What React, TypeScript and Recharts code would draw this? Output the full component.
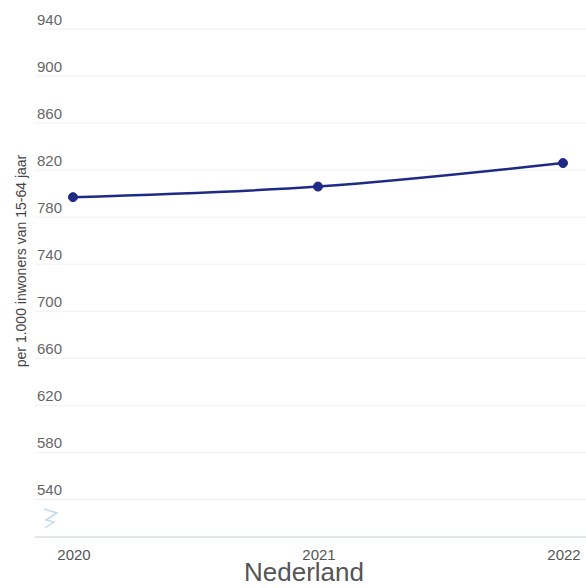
import React from 'react'
import { LineChart, Line, XAxis, YAxis, CartesianGrid } from 'recharts'

const years = ['2020', '2021', '2022']
const values = [797, 806, 826]
const yTicks = [540, 580, 620, 660, 700, 740, 780, 820, 860, 900, 940]

const data = years.map((year, i) => ({ year, value: values[i] }))

const font = "Arial, 'Liberation Sans', sans-serif"

const YTick = (props: any) => {
  const { y, payload } = props
  return (
    <text x={37} y={y - 4} textAnchor="start" fill="#666" fontSize={15} fontFamily={font}>
      {payload.value}
    </text>
  )
}

const XTick = (props: any) => {
  const { x, y, payload } = props
  return (
    <text x={x + 1} y={y + 15} textAnchor="middle" fill="#555" fontSize={15} fontFamily={font}>
      {payload.value}
    </text>
  )
}

export default function App() {
  return (
    <div style={{ position: 'absolute', left: 0, top: 0, width: 586, height: 588, background: '#fff' }}>
      <LineChart
        width={586}
        height={588}
        data={data}
        margin={{ top: 29, right: 0, left: 0, bottom: 0 }}
      >
        <CartesianGrid horizontal vertical={false} stroke="#f0f0f0" />
        <XAxis
          dataKey="year"
          axisLine={{ stroke: '#c5d9e8' }}
          tickLine={false}
          tick={<XTick />}
          padding={{ left: 38, right: 23 }}
          height={51}
        />
        <YAxis
          width={35}
          domain={[508, 940]}
          ticks={yTicks}
          allowDataOverflow
          axisLine={false}
          tickLine={false}
          tick={<YTick />}
        />
        <Line
          type="monotone"
          dataKey="value"
          stroke="#1f2a86"
          strokeWidth={2.5}
          dot={{ r: 4.5, fill: '#1f2a86', stroke: '#1f2a86', strokeWidth: 1 }}
          isAnimationActive={false}
        />
      </LineChart>
      <svg width={586} height={588} style={{ position: 'absolute', left: 0, top: 0, pointerEvents: 'none' }}>
        <text
          transform="translate(26, 261) rotate(-90)"
          textAnchor="middle"
          fill="#444"
          fontSize={14}
          fontFamily={font}
        >
          per 1.000 inwoners van 15-64 jaar
        </text>
        <polyline points="44,509 57,513 46,520 54,522 45,528" fill="none" stroke="#c5d9e8" strokeWidth={1.5} />
        <text x={304} y={581} textAnchor="middle" fill="#555" fontSize={26} fontFamily={font}>
          Nederland
        </text>
      </svg>
    </div>
  )
}
